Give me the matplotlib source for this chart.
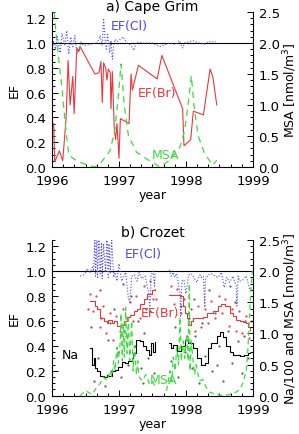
import numpy as np
import matplotlib
matplotlib.use('Agg')
import matplotlib.pyplot as plt
from matplotlib.ticker import MultipleLocator

plt.rcParams['font.family'] = ['DejaVu Sans']

# ---- a) Cape Grim ----
cg_br_t = [1996.025, 1996.04, 1996.11, 1996.16, 1996.21, 1996.24, 1996.27, 1996.31,
           1996.33, 1996.37, 1996.40, 1996.42, 1996.64, 1996.70, 1996.73, 1996.75,
           1996.77, 1996.80, 1996.82, 1996.84, 1996.87, 1996.88, 1996.90, 1996.93,
           1996.95, 1996.97, 1997.00, 1997.02, 1997.15, 1997.18, 1997.20, 1997.29,
           1997.57, 1997.64, 1997.95, 1997.97, 1998.07, 1998.11, 1998.26, 1998.36,
           1998.40, 1998.46]
cg_br = [0.35, 0.04, 0.13, 0.05, 0.39, 0.86, 0.50, 0.73,
         0.43, 0.96, 0.93, 0.97, 0.75, 0.76, 0.85, 0.52,
         0.84, 0.80, 0.70, 0.79, 0.76, 0.47, 0.77, 0.30,
         0.22, 0.35, 0.07, 0.39, 0.35, 0.75, 0.62, 0.82,
         0.71, 0.90, 0.47, 0.17, 0.22, 0.45, 0.42, 0.79,
         0.73, 0.50]

cg_msa_t = [1996.03, 1996.06, 1996.10, 1996.15, 1996.20, 1996.25, 1996.35, 1996.52,
            1996.64, 1996.74, 1996.87, 1996.94, 1996.99, 1997.03, 1997.08, 1997.14,
            1997.26, 1997.44, 1997.61, 1997.76, 1997.91, 1997.98, 1998.03, 1998.08,
            1998.12, 1998.18, 1998.28, 1998.40, 1998.46]
cg_msa = [2.50, 2.17, 1.74, 1.26, 0.67, 0.19, 0.11, 0.03,
          0.00, 0.08, 0.27, 0.62, 1.15, 1.66, 0.99, 0.51,
          0.24, 0.11, 0.00, 0.11, 0.32, 0.59, 0.99, 1.47,
          0.99, 0.51, 0.21, 0.03, 0.11]

cg_cl_t = [1996.00, 1996.02, 1996.05, 1996.08, 1996.12, 1996.15, 1996.19, 1996.22,
           1996.25, 1996.28, 1996.31, 1996.34, 1996.37, 1996.40, 1996.43, 1996.47,
           1996.67, 1996.70, 1996.72, 1996.75, 1996.77, 1996.79, 1996.81, 1996.83,
           1996.86, 1996.88, 1996.90, 1996.92, 1996.94, 1996.97, 1997.02, 1997.06,
           1997.12, 1997.18, 1997.22, 1997.26, 1997.35, 1997.50, 1997.60, 1997.65,
           1997.75, 1997.85, 1997.90, 1997.95, 1997.98, 1998.05, 1998.10, 1998.20,
           1998.27, 1998.35, 1998.45]
cg_cl = [0.93, 1.02, 0.95, 1.05, 0.92, 1.08, 0.98, 1.10,
         0.91, 1.05, 0.97, 1.06, 0.92, 0.95, 1.01, 0.98,
         1.00, 1.03, 1.06, 0.98, 1.20, 1.04, 0.95, 1.08,
         0.92, 1.02, 0.87, 0.97, 1.03, 1.01, 1.03, 1.05,
         1.00, 0.98, 0.94, 1.01, 1.00, 1.00, 0.97, 0.98,
         1.00, 0.99, 1.02, 0.96, 1.00, 1.01, 1.02, 1.00,
         0.99, 1.01, 1.01]

# ---- b) Crozet ----
cz_br_t = [1996.56, 1996.62, 1996.64, 1996.67, 1996.72, 1996.77, 1996.82, 1996.84,
           1996.89, 1996.92, 1996.97, 1997.02, 1997.07, 1997.12, 1997.17, 1997.22,
           1997.27, 1997.32, 1997.37, 1997.42, 1997.49, 1997.54,
           np.nan,
           1997.75, 1997.88, 1997.91, 1997.95, 1997.98, 1998.01, 1998.03, 1998.07,
           1998.11, 1998.21, 1998.26, 1998.31, 1998.41, 1998.48, 1998.53, 1998.58,
           1998.65, 1998.70, 1998.75, 1998.80, 1998.85, 1998.90, 1998.92, 1998.95]
cz_br = [0.76, 0.76, 0.72, 0.70, 0.62, 0.60, 0.58, 0.61,
         0.58, 0.60, 0.56, 0.57, 0.60, 0.63, 0.65, 0.68,
         0.70, 0.74, 0.78, 0.82, 0.85, 0.86,
         np.nan,
         0.81, 0.81, 0.80, 0.72, 0.66, 0.62, 0.57, 0.60,
         0.62, 0.62, 0.63, 0.66, 0.68, 0.72, 0.74, 0.72,
         0.66, 0.64, 0.61, 0.60, 0.59, 0.58, 0.55, 0.53]

# Na/100 (right axis units)
cz_na_t = [1996.56, 1996.59, 1996.62, 1996.64, 1996.67, 1996.72, 1996.77, 1996.82,
           1996.84, 1996.89, 1996.94, 1996.99, 1997.04, 1997.09, 1997.14, 1997.19,
           1997.21, 1997.26, 1997.31, 1997.36, 1997.41, 1997.45, 1997.48, 1997.51,
           1997.54,
           np.nan,
           1997.75, 1997.77, 1997.81, 1997.86, 1997.93, 1997.98, 1998.03, 1998.11,
           1998.16, 1998.23, 1998.28, 1998.33, 1998.38, 1998.46, 1998.51, 1998.55,
           1998.60, 1998.65, 1998.70, 1998.80, 1998.87, 1998.92, 1998.95]
cz_na = [0.76, 0.50, 0.60, 0.44, 0.40, 0.32, 0.30, 0.34,
         0.32, 0.40, 0.42, 0.46, 0.54, 0.52, 0.56, 0.60,
         0.68, 0.90, 0.88, 0.80, 0.74, 0.66, 0.84, 0.70,
         0.86,
         np.nan,
         0.84, 0.76, 0.82, 0.72, 0.80, 0.90, 0.84, 0.76,
         0.60, 0.50, 0.52, 0.76, 0.84, 0.96, 1.02, 0.94,
         0.80, 0.70, 0.66, 0.64, 0.66, 0.68, 0.68]

cz_msa_t = [1996.42, 1996.50, 1996.60, 1996.67, 1996.72, 1996.77, 1996.82, 1996.87,
            1996.89, 1996.92, 1996.94, 1996.97, 1996.99, 1997.02, 1997.03, 1997.05,
            1997.06, 1997.08, 1997.10, 1997.12, 1997.14, 1997.16, 1997.19, 1997.21,
            1997.23, 1997.26, 1997.28, 1997.30, 1997.35, 1997.40, 1997.45, 1997.50,
            1997.54,
            np.nan,
            1997.71, 1997.76, 1997.79, 1997.81, 1997.84, 1997.86, 1997.89, 1997.91,
            1997.93, 1997.96, 1997.98, 1998.01, 1998.03, 1998.05, 1998.06, 1998.08,
            1998.10, 1998.13, 1998.15, 1998.20, 1998.25, 1998.30, 1998.35, 1998.45,
            1998.55, 1998.65, 1998.75, 1998.80, 1998.85, 1998.90, 1998.92, 1998.95,
            1998.97, 1998.99]
cz_msa = [0.00, 0.08, 0.02, 0.14, 0.20, 0.30, 0.24, 0.40,
          0.30, 0.56, 0.40, 0.78, 0.52, 0.88, 1.32, 0.56,
          1.16, 0.62, 1.42, 0.68, 1.24, 0.56, 1.20, 0.40,
          0.80, 0.34, 0.56, 0.30, 0.24, 0.34, 0.20, 0.24,
          0.14,
          np.nan,
          0.08, 0.40, 0.24, 0.62, 0.40, 0.78, 0.50, 1.26,
          0.56, 0.88, 0.60, 0.98, 0.56, 1.80, 0.40, 0.88,
          0.62, 0.34, 0.50, 0.24, 0.26, 0.14, 0.06, 0.02,
          0.00, 0.02, 0.06, 0.10, 0.20, 0.40, 0.66, 1.30,
          1.70, 2.00]

cz_cl_t = [1996.42, 1996.47, 1996.50, 1996.52, 1996.55, 1996.57, 1996.60, 1996.62,
           1996.64, 1996.65, 1996.67, 1996.68, 1996.70, 1996.72, 1996.74, 1996.75,
           1996.77, 1996.80, 1996.82, 1996.84, 1996.85, 1996.87, 1996.89, 1996.92,
           1996.94, 1996.97, 1997.00, 1997.04, 1997.10, 1997.14, 1997.16, 1997.19,
           1997.23, 1997.27, 1997.30, 1997.34, 1997.39, 1997.44, 1997.46, 1997.48,
           1997.51, 1997.53, 1997.54,
           np.nan,
           1997.75, 1997.78, 1997.81, 1997.83, 1997.86, 1997.88, 1997.91, 1997.92,
           1997.94, 1997.97, 1998.00, 1998.04, 1998.08, 1998.11, 1998.16, 1998.21,
           1998.23, 1998.26, 1998.28, 1998.29, 1998.33, 1998.38, 1998.43, 1998.48,
           1998.53, 1998.57, 1998.61, 1998.65, 1998.70, 1998.75, 1998.76, 1998.78,
           1998.80, 1998.85, 1998.90, 1998.94, 1998.96]
cz_cl = [0.96, 0.97, 0.99, 1.02, 1.00, 0.99, 1.03, 1.00,
         1.26, 0.96, 1.26, 0.95, 1.25, 0.98, 1.23, 0.94,
         1.22, 0.99, 1.26, 0.95, 1.22, 0.98, 1.26, 0.95,
         0.99, 0.92, 1.06, 0.92, 0.99, 0.78, 0.75, 0.96,
         0.97, 0.92, 0.99, 0.94, 0.96, 0.83, 0.70, 0.97,
         1.00, 0.88, 0.99,
         np.nan,
         1.01, 0.96, 0.99, 0.95, 0.98, 0.92, 0.82, 0.63,
         0.92, 0.93, 0.82, 0.97, 0.98, 0.96, 0.91, 0.97,
         0.95, 0.96, 0.71, 0.93, 0.97, 0.98, 0.96, 0.95,
         0.99, 0.87, 0.95, 0.91, 0.96, 0.88, 0.72, 0.96,
         0.92, 0.93, 0.96, 0.88, 0.84]

# raw scattered samples (left axis units)
cz_raw_na_t = [1996.58, 1996.63, 1996.69, 1996.73, 1996.79, 1996.83, 1996.88, 1996.93,
               1996.98, 1997.03, 1997.08, 1997.13, 1997.18, 1997.24, 1997.29, 1997.33,
               1997.38, 1997.43, 1997.47, 1997.52, 1997.78, 1997.83, 1997.88, 1997.93,
               1997.99, 1998.04, 1998.09, 1998.14, 1998.19, 1998.24, 1998.29, 1998.34,
               1998.39, 1998.44, 1998.50, 1998.56, 1998.62, 1998.68, 1998.73, 1998.78,
               1998.83, 1998.88, 1998.93, 1996.71, 1996.86, 1997.06, 1997.36, 1998.12,
               1998.47, 1998.66, 1998.86]
cz_raw_na = [0.55, 0.12, 0.30, 0.62, 0.08, 0.45, 0.20, 0.70,
             0.35, 0.15, 0.52, 0.25, 0.80, 0.40, 0.60, 0.22,
             0.50, 0.30, 0.68, 0.18, 0.28, 0.55, 0.15, 0.72,
             0.35, 0.62, 0.22, 0.48, 0.10, 0.58, 0.32, 0.85,
             0.20, 0.66, 0.40, 0.12, 0.52, 0.26, 0.75, 0.44,
             0.18, 0.60, 0.30, 0.85, 0.58, 0.90, 0.10, 0.78,
             0.25, 0.88, 0.48]

cz_raw_br_t = [1996.57, 1996.61, 1996.66, 1996.71, 1996.76, 1996.81, 1996.86, 1996.91,
               1996.96, 1997.01, 1997.06, 1997.11, 1997.16, 1997.21, 1997.26, 1997.31,
               1997.37, 1997.41, 1997.46, 1997.51, 1997.77, 1997.82, 1997.87, 1997.92,
               1997.97, 1998.02, 1998.07, 1998.13, 1998.18, 1998.23, 1998.28, 1998.33,
               1998.38, 1998.43, 1998.49, 1998.54, 1998.59, 1998.64, 1998.69, 1998.74,
               1998.79, 1998.84, 1998.89, 1998.94, 1996.53, 1997.55, 1998.97]
cz_raw_br = [0.82, 0.68, 0.80, 0.55, 0.72, 0.50, 0.66, 0.45,
             0.64, 0.52, 0.70, 0.48, 0.75, 0.60, 0.80, 0.62,
             0.88, 0.70, 0.92, 0.78, 0.88, 0.74, 0.86, 0.66,
             0.78, 0.48, 0.70, 0.52, 0.72, 0.55, 0.70, 0.58,
             0.76, 0.62, 0.80, 0.66, 0.78, 0.56, 0.70, 0.52,
             0.68, 0.50, 0.64, 0.46, 0.70, 0.78, 0.60]

red = '#e8383c'
blue = '#4a4ae0'
green = '#3cdc3c'

fig = plt.figure(figsize=(2.99, 4.35), dpi=100)


def setup(ax, ax2, ylab2):
    ax.set_xlim(1996, 1999)
    ax.set_ylim(0, 1.25)
    ax2.set_ylim(0, 2.5)
    ax.set_xticks([1996, 1997, 1998, 1999])
    ax.xaxis.set_minor_locator(MultipleLocator(1 / 6))
    ax.set_yticks([0.0, 0.2, 0.4, 0.6, 0.8, 1.0, 1.2])
    ax.yaxis.set_minor_locator(MultipleLocator(0.05))
    ax2.set_yticks([0.0, 0.5, 1.0, 1.5, 2.0, 2.5])
    ax2.yaxis.set_minor_locator(MultipleLocator(0.1))
    ax.yaxis.set_major_formatter(plt.FormatStrFormatter('%.1f'))
    ax2.yaxis.set_major_formatter(plt.FormatStrFormatter('%.1f'))
    for a in (ax, ax2):
        a.spines['top'].set_visible(False)
        a.tick_params(which='both', direction='in', labelsize=9.5, width=0.7, pad=4)
        a.tick_params(which='major', length=4)
        a.tick_params(which='minor', length=2)
    ax.tick_params(axis='x', pad=5)
    ax.spines['right'].set_visible(False)
    ax2.spines['left'].set_visible(False)
    ax2.spines['bottom'].set_visible(False)
    ax.axhline(1.0, color='k', lw=0.8)
    ax.set_ylabel('EF', fontsize=9, labelpad=3)
    ax.set_xlabel('year', fontsize=9, labelpad=1)
    ax2.set_ylabel(ylab2, fontsize=9, labelpad=1)


# panel a
ax = fig.add_axes([0.174, 0.614, 0.672, 0.356])
ax2 = ax.twinx()
setup(ax, ax2, 'MSA [nmol/m$^3$]')
ax.plot(cg_cl_t, cg_cl, ls=':', color=blue, lw=0.8)
ax.plot(cg_br_t, cg_br, color=red, lw=0.8)
ax2.plot(cg_msa_t, cg_msa, ls=(0, (5, 4)), color=green, lw=0.9)
fig.text(0.51, 0.999, 'a) Cape Grim', fontsize=10, ha='center', va='top')
ax.text(1997.16, 1.14, 'EF(Cl)', color=blue, fontsize=9, ha='center', va='center')
ax.text(1997.57, 0.60, 'EF(Br)', color=red, fontsize=9, ha='center', va='center')
ax.text(1997.69, 0.10, 'MSA', color=green, fontsize=9, ha='center', va='center')

# panel b
bx = fig.add_axes([0.174, 0.088, 0.672, 0.358])
bx2 = bx.twinx()
setup(bx, bx2, 'Na/100 and MSA [nmol/m$^3$]')
bx.plot(cz_raw_na_t, cz_raw_na, ls='none', marker='.', ms=1.2, color='0.35')
bx.plot(cz_raw_br_t, cz_raw_br, ls='none', marker='.', ms=1.2, color=red)
bx.plot(cz_cl_t, cz_cl, ls=':', color=blue, lw=0.8)
bx.plot(cz_br_t, cz_br, color=red, lw=0.8, drawstyle='steps-post')
bx2.plot(cz_na_t, cz_na, color='k', lw=0.8, drawstyle='steps-post')
bx2.plot(cz_msa_t, cz_msa, ls=(0, (4, 3)), color=green, lw=0.9)
bx.set_title('b) Crozet', fontsize=10, pad=3)
bx.text(1997.36, 1.14, 'EF(Cl)', color=blue, fontsize=9, ha='center', va='center')
bx.text(1997.61, 0.67, 'EF(Br)', color=red, fontsize=9, ha='center', va='center')
bx.text(1996.27, 0.33, 'Na', color='k', fontsize=9, ha='center', va='center')
bx.text(1997.66, 0.13, 'MSA', color=green, fontsize=9, ha='center', va='center')

fig.savefig('out.png', dpi=100)
